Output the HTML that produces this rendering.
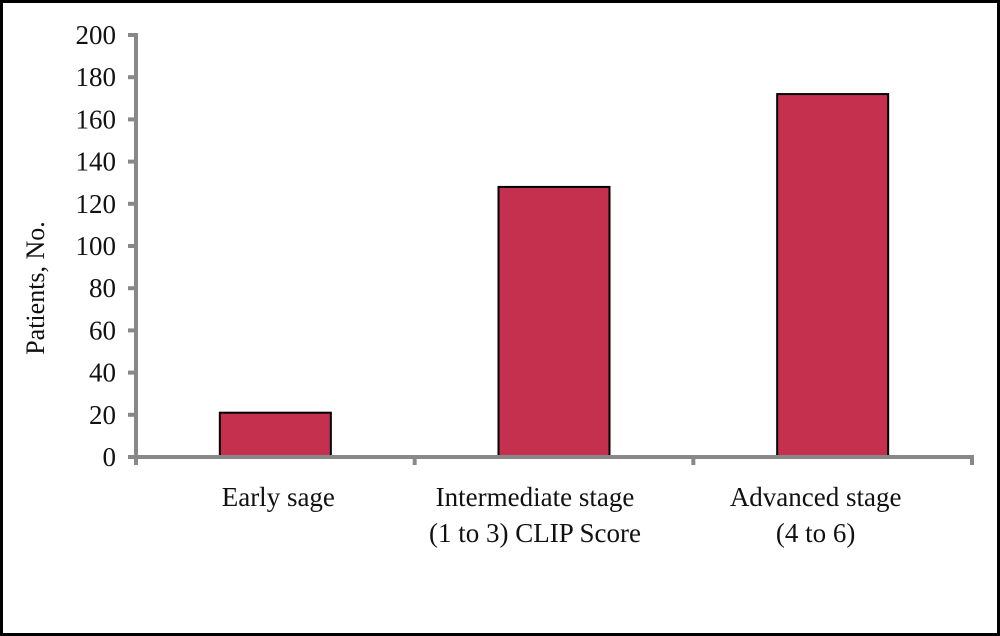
<!DOCTYPE html>
<html><head><meta charset="utf-8"><style>
html,body{margin:0;padding:0;background:#fff}
svg{display:block}
text{font-family:"Liberation Serif",serif;fill:#111}
</style></head><body>
<svg width="1000" height="636" viewBox="0 0 1000 636">
<rect x="1.5" y="1.5" width="997" height="633" fill="#fff" stroke="#000" stroke-width="3"/>
<g id="g"></g>
<text transform="translate(44,288) rotate(-90)" text-anchor="middle" font-size="26">Patients, No.</text>
</svg>
<script>
const categories=[["Early sage"],["Intermediate stage","(1 to 3)  CLIP Score"],["Advanced stage","(4 to 6)"]];
const values=[21,128,172];
const yTicks=[0,20,40,60,80,100,120,140,160,180,200];
const NS="http://www.w3.org/2000/svg";
const g=document.getElementById('g');
const x0=136,x1=972,y0=457,yTop=35,yMax=200;
const y=v=>y0-(v/yMax)*(y0-yTop);
const bandW=(x1-x0)/categories.length;
const bx=i=>x0+bandW*i;
const labelShift=[3,-19,-17];
function mk(t,a){const e=document.createElementNS(NS,t);for(const k in a)e.setAttribute(k,a[k]);g.appendChild(e);return e;}
values.forEach((v,i)=>{
 const w=111,cx=bx(i)+bandW/2;
 const r=mk('rect',{x:cx-w/2,y:y(v),width:w,height:y0-y(v),fill:'#c4304e',stroke:'#000','stroke-width':2});
 
 
});
mk('line',{x1:x0,y1:yTop-2,x2:x0,y2:y0+7,stroke:'#888','stroke-width':4});
mk('line',{x1:x0-2,y1:y0,x2:x1+2,y2:y0,stroke:'#888','stroke-width':4});
yTicks.forEach(t=>{
 const l=mk('line',{x1:x0-8,y1:y(t),x2:x0,y2:y(t),stroke:'#888','stroke-width':4});
 
 const tx=mk('text',{x:x0-20,y:y(t)+9,'text-anchor':'end','font-size':27});
 tx.textContent=t;
 
 
});
for(let i=0;i<=categories.length;i++){
 const l=mk('line',{x1:bx(i),y1:y0,x2:bx(i),y2:y0+8,stroke:'#888','stroke-width':4});
 
}
categories.forEach((c,i)=>{
 c.forEach((s,j)=>{
  const t=mk('text',{x:bx(i)+bandW/2+labelShift[i],y:506+j*36,'text-anchor':'middle','font-size':27});
  t.textContent=s;
  
  
 });
});
</script>
</body></html>
